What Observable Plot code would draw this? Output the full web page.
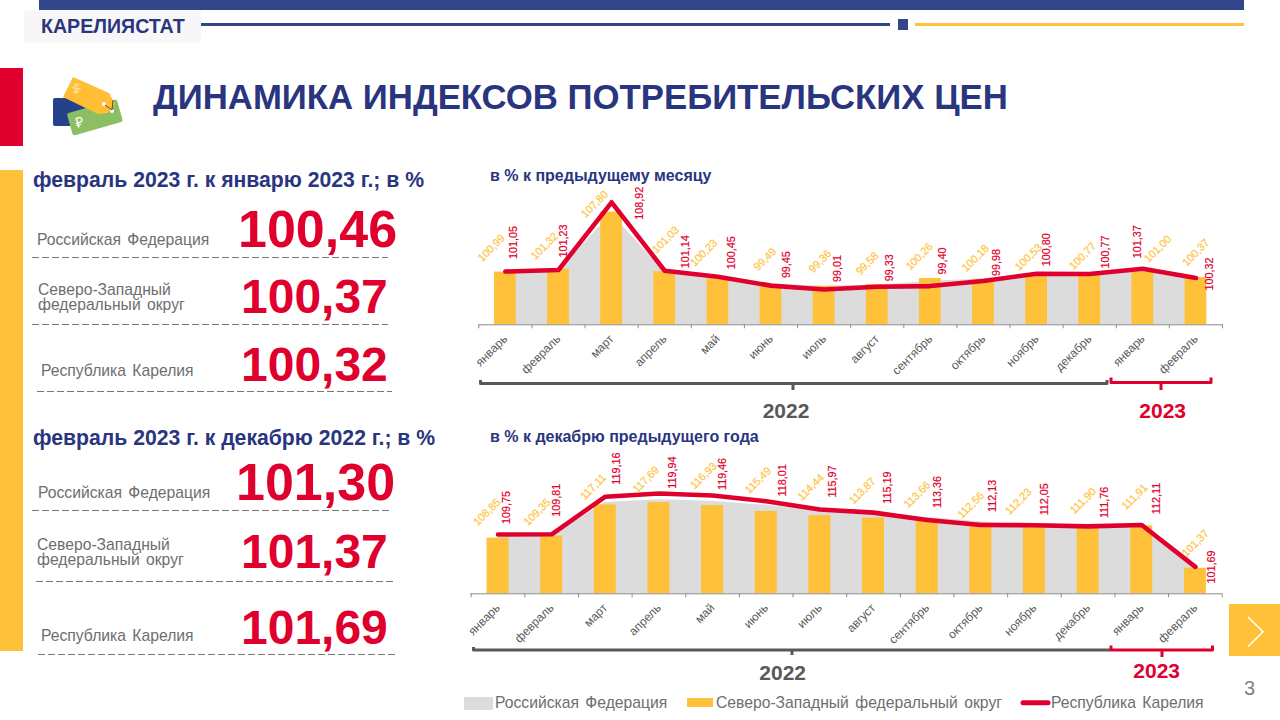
<!DOCTYPE html>
<html lang="ru">
<head>
<meta charset="utf-8">
<script src="https://cdn.jsdelivr.net/npm/d3@7"></script>
<script src="https://cdn.jsdelivr.net/npm/@observablehq/plot@0.6"></script>
<style>
  html,body{margin:0;padding:0;background:#fff;width:1280px;height:720px;overflow:hidden;font-family:"Liberation Sans",Arial,sans-serif}
  .a{position:absolute;white-space:nowrap}
  .chart{position:absolute}
  .chart svg{background:transparent;overflow:visible;display:block}
</style>
</head>
<body>
<div id="page"></div>
<script>
// ---- data ----
const months = ["январь","февраль","март","апрель","май","июнь","июль","август","сентябрь","октябрь","ноябрь","декабрь","январь","февраль"];
const monthlyRussia  = [100.9,101.15,107.6,101.0,100.2,99.55,99.4,99.5,99.95,100.2,100.7,100.75,101.1,100.46];
const monthlyNW      = [100.99,101.32,107.80,101.03,100.23,99.49,99.36,99.58,100.26,100.18,100.53,100.77,101.00,100.37];
const monthlyKarelia = [101.05,101.23,108.92,101.14,100.45,99.45,99.01,99.33,99.40,99.98,100.80,100.77,101.37,100.32];
const ytdRussia  = [109.0,109.3,117.7,118.4,118.0,117.0,115.7,114.9,114.0,112.9,112.0,111.9,111.7,101.30];
const ytdNW      = [108.85,109.35,117.11,117.69,116.93,115.49,114.44,113.87,113.66,112.56,112.23,111.90,111.91,101.37];
const ytdKarelia = [109.75,109.81,119.16,119.94,119.46,118.01,115.97,115.19,113.36,112.13,112.05,111.76,112.11,101.69];
const seriesNames = ["Российская Федерация","Северо-Западный федеральный округ","Республика Карелия"];
const monthlyTotals = ["100,46","100,37","100,32"];
const ytdTotals = ["101,30","101,37","101,69"];

// ---- palette ----
const NAVY="#2A3580", BAR="#33458A", RED="#E0002D", YEL="#FFC03A", GRAY="#DCDCDC", TXT="#595959", LEG="#6E6E6E";

// ---- hand placement of the value labels (pixel nudges from each data point) ----
const topYel = [[-14,-24],[-14,-23],[-17,-8],[1,-32],[-14,-26],[-6,-26],[-4,-25],[-10,-21],[-11,-22],[-8,-21],[-8,-19],[-7,-18],[15,-23],[0,-25]];
const topRed = [[8,-29],[5,-29],[28,1],[21,-19],[14,-24],[16,-21],[13,-21],[12,-19],[12,-25],[13,-18.5],[10,-24],[16,-22],[-5.5,-27],[14,-4]];
const botYel = [[-11,-26],[-14.5,-24],[-12,-18],[-13,-23],[-9,-30],[-8,-31],[-9,-28.5],[-11,-27],[-10,-24],[-10,-18],[-16,-23],[-5,-25],[-7,-29],[0,-25]];
const botRed = [[8.5,-27],[5,-34],[11,-28],[14,-21],[9.6,-21.5],[16,-21],[13,-28],[14,-25],[10.5,-28],[11.5,-29],[10,-26],[16.7,-24],[15,-26.5],[16,0]];

const fmt = v => v.toFixed(2).replace(".",",");
const FONT = '"Liberation Sans",Arial,sans-serif';

function labels(values, nudges, color, rotate){
  return values.map((v,i)=>Plot.text([{x:i+.5,y:v,t:fmt(v)}],{
    x:"x",y:"y",text:"t",fill:color,rotate,dx:nudges[i][0],dy:nudges[i][1],
    fontSize:10.8,textAnchor:"middle",lineAnchor:"middle",fontFamily:FONT,
    stroke:color,strokeWidth:0.2}));
}

function chart({russia,nw,karelia,yMax,left,top,width,marginLeft,marginRight,marginTop,innerH,yel,red}){
  const rows = months.map((m,i)=>({i,pos:i+.5,m,russia:russia[i],nw:nw[i],karelia:karelia[i]}));
  const halfBar = 0.205;
  const p = Plot.plot({
    width,height:marginTop+innerH+62,marginLeft,marginRight,marginTop,marginBottom:62,
    style:{background:"transparent",fontFamily:FONT},
    x:{domain:[0,14],axis:null},
    y:{domain:[95,yMax],axis:null},
    marks:[
      Plot.areaY(rows,{x:"pos",y1:95,y2:"russia",fill:GRAY,curve:"linear"}),
      Plot.rectY(rows,{x1:d=>d.pos-halfBar,x2:d=>d.pos+halfBar,y1:95,y2:"nw",fill:YEL}),
      Plot.ruleY([95],{stroke:"#8C8C8C",strokeWidth:1}),
      Plot.axisX(d3.range(0,15),{tickSize:4,stroke:"#8C8C8C",tickFormat:()=>"",label:null,anchor:"bottom"}),
      Plot.axisX(rows.map(d=>d.pos),{tickSize:0,tickRotate:-45,tickPadding:12,anchor:"bottom",label:null,
        tickFormat:d=>months[d-.5],fontSize:12,fill:TXT}),
      Plot.line(rows,{x:"pos",y:"karelia",stroke:RED,strokeWidth:4.6,strokeLinecap:"round",strokeLinejoin:"round",curve:"linear"}),
      ...labels(nw,yel,"#FFC440",-45),
      ...labels(karelia,red,RED,-90)
    ]
  });
  const div=document.createElement("div");
  div.className="chart";div.style.left=left+"px";div.style.top=top+"px";
  div.appendChild(p);
  page.appendChild(div);
}

const page=document.getElementById("page");
function box(x,y,w,h,bg){const d=document.createElement("div");d.className="a";d.style.cssText+=`left:${x}px;top:${y}px;width:${w}px;height:${h}px;background:${bg}`;page.appendChild(d);return d;}
function txt(s,x,cy,size,color,bold,extra=""){const d=document.createElement("div");d.className="a";d.textContent=s;
  d.style.cssText+=`left:${x}px;top:${cy-size}px;line-height:${size*2}px;font-size:${size}px;color:${color};font-weight:${bold?700:400};white-space:pre;${extra}`;page.appendChild(d);return d;}
function svgOverlay(html){const d=document.createElement("div");d.className="a";d.style.cssText+="left:0;top:0";
  d.innerHTML=`<svg width="1280" height="720" style="display:block">${html}</svg>`;page.appendChild(d);}
const SER="word-spacing:2px;";

// header
box(39,0,1205,10,BAR);
box(24,11,177,32,"#F7F7F7");
txt("КАРЕЛИЯСТАТ",41,27,19.6,NAVY,true);
box(201,23,689,3,BAR);
box(898,19,10,11,BAR);
box(915,23,329,3,YEL);
box(0,68,23,78,RED);
box(0,170,23,481,YEL);
txt("ДИНАМИКА ИНДЕКСОВ ПОТРЕБИТЕЛЬСКИХ ЦЕН",153,98,34.75,NAVY,true);

// icon + decorations
box(1229,604,51,52,YEL);
svgOverlay(`
<rect x="53" y="98" width="46" height="28" rx="2" fill="#26418B"/>
<g transform="rotate(-16 95 118)"><rect x="69" y="106" width="52" height="23" rx="2" fill="#8CBF63"/><text x="75" y="123" font-size="14" fill="#fff" font-family="Liberation Sans">₽</text></g>
<path d="M73 77 L109 93 L115 104 L108 113 L98 114 L63 97 Z" fill="#FFBE33"/>
<text transform="translate(73 90) rotate(65)" font-size="11" fill="#fff" fill-opacity="0.85" font-family="Liberation Sans" text-anchor="middle">%</text>
<circle cx="104" cy="104" r="2" fill="#fff"/><circle cx="112" cy="111" r="2" fill="#fff"/>
<path d="M105 105 L112 110 L113 100" stroke="#333" stroke-width="0.8" fill="none"/>
<g fill="none" stroke-width="3" stroke-linejoin="round">
<path d="M480.5 380 V383.5 H1107 V380 M793 383.5 V390" stroke="${TXT}"/>
<path d="M1111 377.5 V382.5 H1211 V377.5 M1161 382.5 V390" stroke="${RED}"/>
<path d="M473.5 647 V650 H1110 M792 650 V655" stroke="${TXT}"/>
<path d="M1111 645.5 V650 H1212.5 V645.5 M1162 650 V657" stroke="${RED}"/>
</g>
<g stroke="#777" stroke-width="1" stroke-dasharray="7 3" fill="none">
<path d="M32 257.5H388"/><path d="M32 324.5H388"/><path d="M37 391.5H392"/>
<path d="M32 510.5H392"/><path d="M36 581.5H394"/><path d="M38 654.5H395"/>
</g>
<path d="M1248 617 L1263 631.7 L1248 646.7" fill="none" stroke="#fff" stroke-width="1.6"/>
`);

// left panel
txt("февраль 2023 г. к январю 2023 г.; в %",33,180.5,21.2,NAVY,true);
txt(seriesNames[0],37,240,15.7,LEG,false,SER);
txt(monthlyTotals[0],238,228.5,52,RED,true);
txt("Северо-Западный",38,289.5,15.7,LEG,false,SER);
txt("федеральный округ",38,305,15.7,LEG,false,SER);
txt(monthlyTotals[1],241,297,48,RED,true);
txt(seriesNames[2],41,370.5,15.7,LEG,false,SER);
txt(monthlyTotals[2],241,365,48,RED,true);

txt("февраль 2023 г. к декабрю 2022 г.; в %",33,438.5,21.2,NAVY,true);
txt(seriesNames[0],38,492.5,15.7,LEG,false,SER);
txt(ytdTotals[0],236,482,52,RED,true);
txt("Северо-Западный",37,544.5,15.7,LEG,false,SER);
txt("федеральный округ",37,560,15.7,LEG,false,SER);
txt(ytdTotals[1],241,552,48,RED,true);
txt(seriesNames[2],41,635.5,15.7,LEG,false,SER);
txt(ytdTotals[2],241,628,48,RED,true);

// chart titles
txt("в % к предыдущему месяцу",490,176,16,NAVY,true);
txt("в % к декабрю предыдущего года",490,437,16,NAVY,true);

chart({russia:monthlyRussia,nw:monthlyNW,karelia:monthlyKarelia,yMax:113,left:460,top:150,width:790,
  marginLeft:18.3,marginRight:28,marginTop:15.9,innerH:158.4,yel:topYel,red:topRed});
chart({russia:ytdRussia,nw:ytdNW,karelia:ytdKarelia,yMax:135,left:450,top:420,width:800,
  marginLeft:20.7,marginRight:28.3,marginTop:12.5,innerH:160.8,yel:botYel,red:botRed});

// year labels
function centered(s,cx,cy,size,color){const d=txt(s,cx-100,cy,size,color,true,"width:200px;text-align:center;");return d;}
centered("2022",786,411,21,TXT);
centered("2023",1162.7,411,21,RED);
centered("2022",782.7,672.5,21,TXT);
centered("2023",1156.7,671,21,RED);

// legend
box(464,696.5,29,13,GRAY);
txt(seriesNames[0],495,703,15.7,LEG,false,SER);
box(687,698,26,9,YEL);
txt(seriesNames[1],716,703,15.7,LEG,false,SER);
svgOverlay(`<path d="M1023 702.7H1048" stroke="${RED}" stroke-width="5" stroke-linecap="round"/>`);
txt(seriesNames[2],1051,703,15.7,LEG,false,SER);

// page number
txt("3",1244,688,20,"#7F7F7F",false);
</script>
</body>
</html>
